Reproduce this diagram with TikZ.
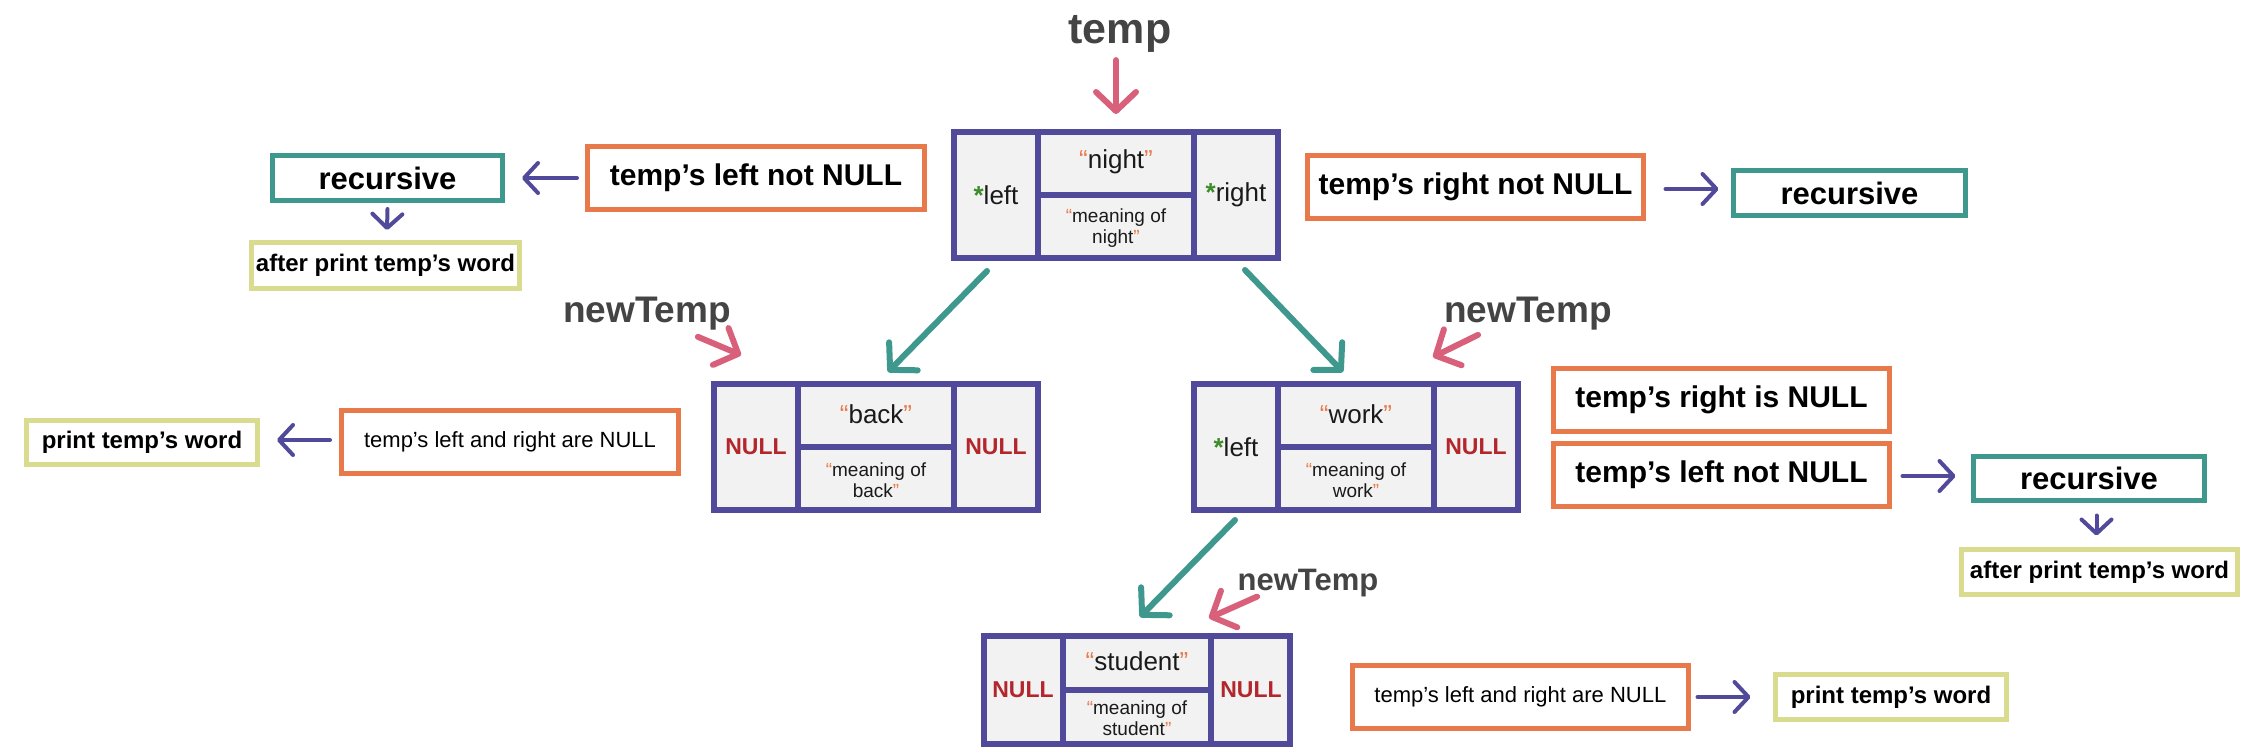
\documentclass[tikz,border=0pt]{standalone}
\usepackage{fontspec}
\setmainfont{Liberation Sans}
\usetikzlibrary{arrows.meta,calc}
\definecolor{cpurple}{HTML}{514A9B}
\definecolor{corange}{HTML}{E8794B}
\definecolor{cteal}{HTML}{3F988E}
\definecolor{cyel}{HTML}{D9DB8F}
\definecolor{cpink}{HTML}{D9607A}
\definecolor{cred}{HTML}{B3262C}
\definecolor{cgreen}{HTML}{3C8C2A}
\definecolor{clabel}{HTML}{444444}
\definecolor{cellgray}{HTML}{F2F2F2}
\definecolor{ctext}{HTML}{1A1A1A}
\newcommand\oq[1]{\textcolor{corange}{#1}}
\newcommand\gstar{\textcolor{cgreen}{\bfseries *}}
\newcommand\recbox[5]{%
  \node[record, minimum width=#3, minimum height=#4] (#1) at (#2) {};
  \draw[recline] ([xshift=-#5]#1.north) -- ([xshift=-#5]#1.south);
  \draw[recline] ([xshift=#5]#1.north) -- ([xshift=#5]#1.south);
  \draw[recline] ([xshift=-#5]#1.center) -- ([xshift=#5]#1.center);
}
\tikzset{
  record/.style={draw=cpurple, line width=6pt, fill=cellgray, inner sep=0pt},
  recline/.style={draw=cpurple, line width=6pt},
  obox/.style={draw=corange, line width=5pt, fill=white, inner sep=0pt, text=black},
  tbox/.style={draw=cteal, line width=5pt, fill=white, inner sep=0pt, text=black},
  gbox/.style={draw=cyel, line width=5pt, fill=white, inner sep=0pt, text=black},
  parr/.style={draw=cpurple, line width=4pt, line cap=round, -{Straight Barb[length=14pt,width=30pt,round]}},
  tarr/.style={draw=cteal, line width=6pt, line cap=round, -{Straight Barb[length=19pt,width=40pt,round]}},
  karr/.style={draw=cpink, line width=6pt, line cap=round, -{Straight Barb[length=19pt,width=40pt,round]}},
  lbl/.style={text=clabel, inner sep=0pt, anchor=base},
  word/.style={text=ctext, inner sep=0pt, font=\fontsize{26}{30}\selectfont},
  mean/.style={text=ctext, inner sep=0pt, align=center, font=\fontsize{19}{21}\selectfont},
  nul/.style={text=cred, inner sep=0pt, font=\fontsize{23}{26}\selectfont\bfseries},
  ptr/.style={text=ctext, inner sep=0pt, font=\fontsize{26}{30}\selectfont},
  big/.style={font=\fontsize{30}{35}\selectfont\bfseries},
  rec/.style={font=\fontsize{31}{36}\selectfont\bfseries},
  small/.style={font=\fontsize{24}{28}\selectfont\bfseries},
  plain/.style={font=\fontsize{22}{26}\selectfont},
}
\begin{document}
\begin{tikzpicture}[x=1pt,y=-1pt]
\fill[white] (0,0) rectangle (2241,747);
\useasboundingbox (0,0) rectangle (2241,747);

% ---------- records ----------
\recbox{night}{1116,195}{324pt}{126pt}{78pt}
\recbox{back}{876,447}{324pt}{126pt}{78pt}
\recbox{work}{1356,447}{324pt}{126pt}{78pt}
\recbox{student}{1137,690}{306pt}{108pt}{74pt}

% night texts
\node[ptr] (night-l) at ($(night.center)+(-120,0)$) {\gstar left};
\node[ptr] (night-r) at ($(night.center)+(120,0)$) {\gstar right};
\node[word] (night-w) at ($(night.center)+(0,-33)$) {\oq{“}night\oq{”}};
\node[mean] (night-m) at ($(night.center)+(0,33)$) {\oq{“}meaning of\\night\oq{”}};
% back texts
\node[nul] (back-l) at ($(back.center)+(-120,0)$) {NULL};
\node[nul] (back-r) at ($(back.center)+(120,0)$) {NULL};
\node[word] (back-w) at ($(back.center)+(0,-33)$) {\oq{“}back\oq{”}};
\node[mean] (back-m) at ($(back.center)+(0,33)$) {\oq{“}meaning of\\back\oq{”}};
% work texts
\node[ptr] (work-l) at ($(work.center)+(-120,0)$) {\gstar left};
\node[nul] (work-r) at ($(work.center)+(120,0)$) {NULL};
\node[word] (work-w) at ($(work.center)+(0,-33)$) {\oq{“}work\oq{”}};
\node[mean] (work-m) at ($(work.center)+(0,33)$) {\oq{“}meaning of\\work\oq{”}};
% student texts
\node[nul] (student-l) at ($(student.center)+(-114,0)$) {NULL};
\node[nul] (student-r) at ($(student.center)+(114,0)$) {NULL};
\node[word] (student-w) at ($(student.center)+(0,-29)$) {\oq{“}student\oq{”}};
\node[mean] (student-m) at ($(student.center)+(0,28)$) {\oq{“}meaning of\\student\oq{”}};

% ---------- labels ----------
\node[lbl, font=\fontsize{43}{50}\selectfont\bfseries] (temp) at (1120,43) {temp};
\node[lbl, font=\fontsize{37}{44}\selectfont\bfseries] (newA) at (647,322) {newTemp};
\node[lbl, font=\fontsize{37}{44}\selectfont\bfseries] (newB) at (1528,322) {newTemp};
\node[lbl, font=\fontsize{31}{36}\selectfont\bfseries] (newC) at (1308,590) {newTemp};

% ---------- condition boxes ----------
\node[obox, big, minimum width=337pt, minimum height=63pt] (tln) at (756,178) {temp’s left not NULL};
\node[tbox, rec, minimum width=230pt, minimum height=45pt] (rec1) at (387.5,178) {recursive};
\node[gbox, small, minimum width=268pt, minimum height=46pt] (apw1) at (385.5,265.5) {after print temp’s word};

\node[obox, big, minimum width=336pt, minimum height=63pt] (trn) at (1475.5,187) {temp’s right not NULL};
\node[tbox, rec, minimum width=232pt, minimum height=45pt] (rec2) at (1849.5,193) {recursive};

\node[obox, plain, minimum width=337pt, minimum height=63pt] (lrn1) at (510,442) {temp’s left and right are NULL};
\node[gbox, small, minimum width=231pt, minimum height=44pt] (ptw1) at (142,442.5) {print temp’s word};

\node[obox, big, minimum width=336pt, minimum height=63pt] (trin) at (1721.5,400) {temp’s right is NULL};
\node[obox, big, minimum width=336pt, minimum height=63pt] (tln2) at (1721.5,475) {temp’s left not NULL};
\node[tbox, rec, minimum width=231pt, minimum height=44pt] (rec3) at (2089,478.5) {recursive};
\node[gbox, small, minimum width=276pt, minimum height=45pt] (apw2) at (2099.5,572) {after print temp’s word};

\node[obox, plain, minimum width=336pt, minimum height=63pt] (lrn2) at (1520.4,697) {temp’s left and right are NULL};
\node[gbox, small, minimum width=231pt, minimum height=45pt] (ptw2) at (1891,697) {print temp’s word};

% ---------- purple arrows ----------
\draw[parr] ($(tln.west)+(-8,0)$) -- ($(rec1.east)+(17,0)$);
\draw[parr] ($(rec1.south)+(0,6)$) -- ($(apw1.north)+(1.5,-10)$);
\draw[parr] ($(trn.east)+(19.5,2)$) -- ($(rec2.west |- trn.east)+(-12.5,2)$);
\draw[parr] ($(lrn1.west)+(-9,-2)$) -- ($(ptw1.east |- lrn1.west)+(17,-2)$);
\draw[parr] ($(tln2.east)+(10.5,1)$) -- ($(rec3.west |- tln2.east)+(-15.5,1)$);
\draw[parr] ($(apw2.north |- rec3.south)+(-3,12.5)$) -- ($(apw2.north)+(-3,-11.5)$);
\draw[parr] ($(lrn2.east)+(6.6,0)$) -- ($(ptw2.west)+(-22.5,0)$);

% ---------- teal arrows ----------
\draw[tarr] ($(night.south)+(-129,10)$) -- ($(back.north)+(12,-9)$);
\draw[tarr] ($(night.south)+(129,9)$) -- ($(work.north)+(-13,-9)$);
\draw[tarr] ($(work.south)+(-121,7)$) -- ($(student.north)+(3,-16)$);

% ---------- pink arrows ----------
\draw[karr] ($(temp.south)+(-4,8)$) -- ($(night.north)+(0,-15)$);
\draw[karr] ($(newA.south)+(51,7)$) -- ($(back.north west)+(30,-26)$);
\draw[karr] ($(newB.south)+(-50,5)$) -- ($(work.north east)+(-88,-24)$);
\draw[karr] ($(newC.south)+(-51,0)$) -- ($(student.north)+(72,-15)$);
\end{tikzpicture}
\end{document}
